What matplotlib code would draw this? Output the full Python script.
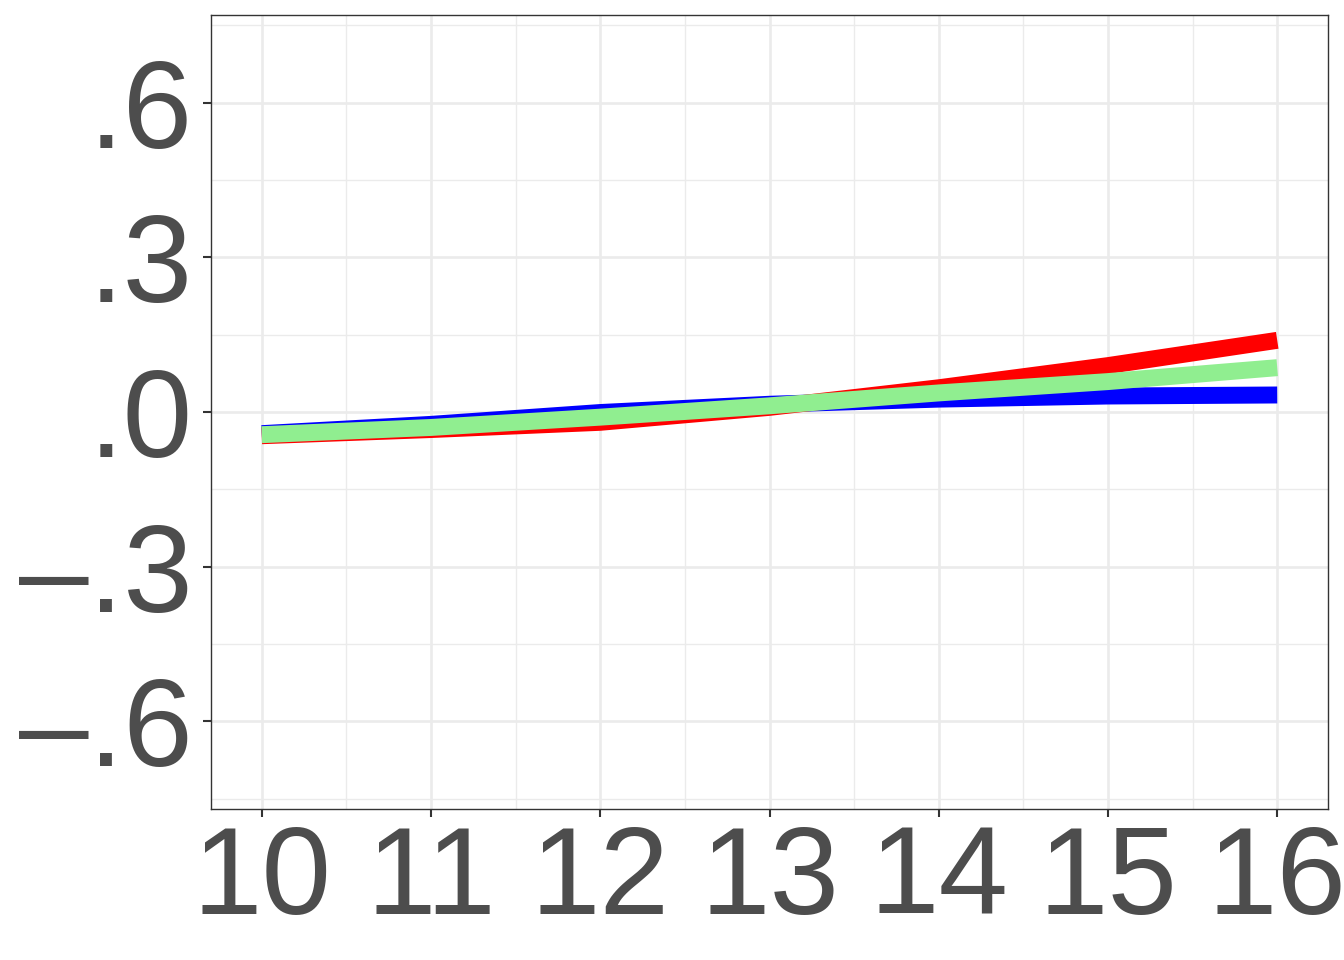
import matplotlib
matplotlib.use('Agg')
import matplotlib.pyplot as plt
import numpy as np

# ===== 参数 =====
FONT_SIZE_TICK = 90
LINE_WIDTH = 12.2
GRID_COLOR = '#EBEBEB'
TEXT_COLOR = '#4D4D4D'
AXIS_COLOR = '#333333'

plt.rcParams['font.family'] = ['Liberation Sans', 'DejaVu Sans']

# ===== 数据 =====
x_vals = [10, 11, 12, 13, 14, 15, 16]
blue_vals = [-0.042, -0.024, -0.001, 0.015, 0.025, 0.031, 0.033]
red_vals = [-0.046, -0.034, -0.020, 0.009, 0.047, 0.090, 0.139]
green_vals = [-0.044, -0.030, -0.010, 0.012, 0.037, 0.059, 0.086]

y_ticks = [-0.6, -0.3, 0.0, 0.3, 0.6]
y_tick_labels = ['\u2013.6', '\u2013.3', '.0', '.3', '.6']
x_ticks = [10, 11, 12, 13, 14, 15, 16]
x_tick_labels = ['10', '11', '12', '13', '14', '15', '16']

fig = plt.figure(figsize=(13.44, 9.6), dpi=100)
ax = fig.add_axes([211 / 1344, 1 - 809 / 960, (1328 - 211) / 1344, (809 - 15) / 960])

# 绘制曲线
ax.plot(x_vals, blue_vals, color='#0000FF', linewidth=LINE_WIDTH, solid_capstyle='butt', zorder=3)
ax.plot(x_vals, red_vals, color='#FF0000', linewidth=LINE_WIDTH, solid_capstyle='butt', zorder=4)
ax.plot(x_vals, green_vals, color='#90EE90', linewidth=LINE_WIDTH, solid_capstyle='butt', zorder=5)

ax.set_xlim(9.7, 16.3)
ax.set_ylim(-0.77, 0.77)

# 网格
ax.set_xticks(x_ticks)
ax.set_xticklabels(x_tick_labels)
ax.set_yticks(y_ticks)
ax.set_yticklabels(y_tick_labels)
ax.set_xticks([10.5, 11.5, 12.5, 13.5, 14.5, 15.5], minor=True)
ax.set_yticks([-0.75, -0.45, -0.15, 0.15, 0.45, 0.75], minor=True)
ax.grid(True, which='major', color=GRID_COLOR, linewidth=1.9, zorder=0)
ax.grid(True, which='minor', color=GRID_COLOR, linewidth=1.0, zorder=0)
ax.set_axisbelow(True)

ax.tick_params(axis='both', which='major', labelsize=FONT_SIZE_TICK, labelcolor=TEXT_COLOR,
               color=AXIS_COLOR, length=5.8, width=1.5)
ax.tick_params(axis='x', which='major', pad=5)
ax.tick_params(axis='y', which='major', pad=7)
ax.tick_params(which='minor', length=0)

for spine in ax.spines.values():
    spine.set_color(AXIS_COLOR)
    spine.set_linewidth(1.0)

fig.savefig('out.png', dpi=100, facecolor='white')
